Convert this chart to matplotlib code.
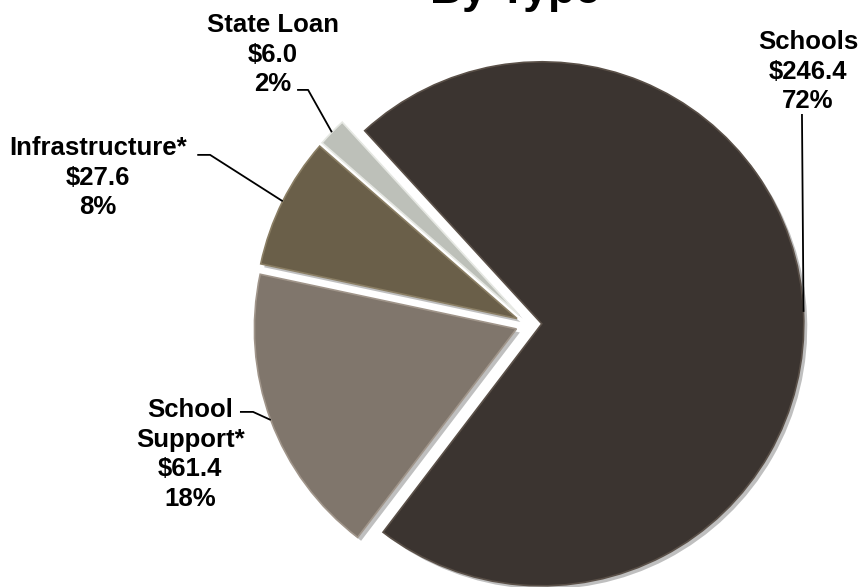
import numpy as np
import matplotlib
matplotlib.use('Agg')
import matplotlib.pyplot as plt
import matplotlib.patheffects as pe

# data (in $ millions), counterclockwise from the start angle
categories = ['Schools', 'State Loan', 'Infrastructure*', 'School\nSupport*']
amounts = [246.4, 6.0, 27.6, 61.4]
colors = ['#3b3430', '#bdc0b9', '#6a5f49', '#80766c']
edge_colors = ['#5a5048', '#e6e8e3', '#8a7e64', '#a0958a']

# label block centres and leader-line start points (data units, radius = 1)
label_xy = [(1.066, 0.965), (-0.976, 1.030), (-1.644, 0.560), (-1.292, -0.497)]
leader_start = [
    [(1.043, 0.803)],
    [(-0.884, 0.895), (-0.842, 0.895)],
    [(-1.265, 0.647), (-1.216, 0.647)],
    [(-1.102, -0.334), (-1.052, -0.334)],
]

W, H = 861, 587
R_PX = 262.0
CX, CY = 528.7, 324.4

plt.rcParams['font.family'] = ['Liberation Sans', 'DejaVu Sans']

fig = plt.figure(figsize=(W / 100, H / 100), dpi=100)
ax = fig.add_axes([0, 0, 1, 1])

wedges, _ = ax.pie(
    amounts,
    colors=colors,
    startangle=232.7,
    counterclock=True,
    explode=[0.05] * len(amounts),
    radius=1.0,
    wedgeprops=dict(linewidth=1.2),
)
for w, ec in zip(wedges, edge_colors):
    w.set_edgecolor(ec)
    w.set_path_effects([
        pe.SimplePatchShadow(offset=(2.5, -2.5), shadow_rgbFace='#000000', alpha=0.25),
        pe.Normal(),
    ])

total = sum(amounts)
for i, w in enumerate(wedges):
    mid = np.deg2rad((w.theta1 + w.theta2) / 2)
    cx, cy = w.center
    anchor = (cx + w.r * np.cos(mid), cy + w.r * np.sin(mid))
    pts = leader_start[i] + [anchor]
    ax.plot([p[0] for p in pts], [p[1] for p in pts], color='black', lw=1.3,
            solid_capstyle='butt', zorder=5)
    pct = round(100 * amounts[i] / total)
    txt = f"{categories[i]}\n${amounts[i]:.1f}\n{pct}%"
    ax.text(label_xy[i][0], label_xy[i][1], txt, ha='center', va='center',
            multialignment='center', fontsize=18.5, fontweight='bold',
            linespacing=1.3, color='black', zorder=6)

ax.set_xlim(-CX / R_PX, (W - CX) / R_PX)
ax.set_ylim(-(H - CY) / R_PX, CY / R_PX)
ax.set_aspect('equal', adjustable='box')
ax.set_axis_off()

# title partly cut off at the top edge
fig.text(515 / W, 1 - 3 / H, 'By Type', ha='center', va='baseline',
         fontsize=32, fontweight='bold', color='black')

fig.savefig('out.png', dpi=100, facecolor='white')
